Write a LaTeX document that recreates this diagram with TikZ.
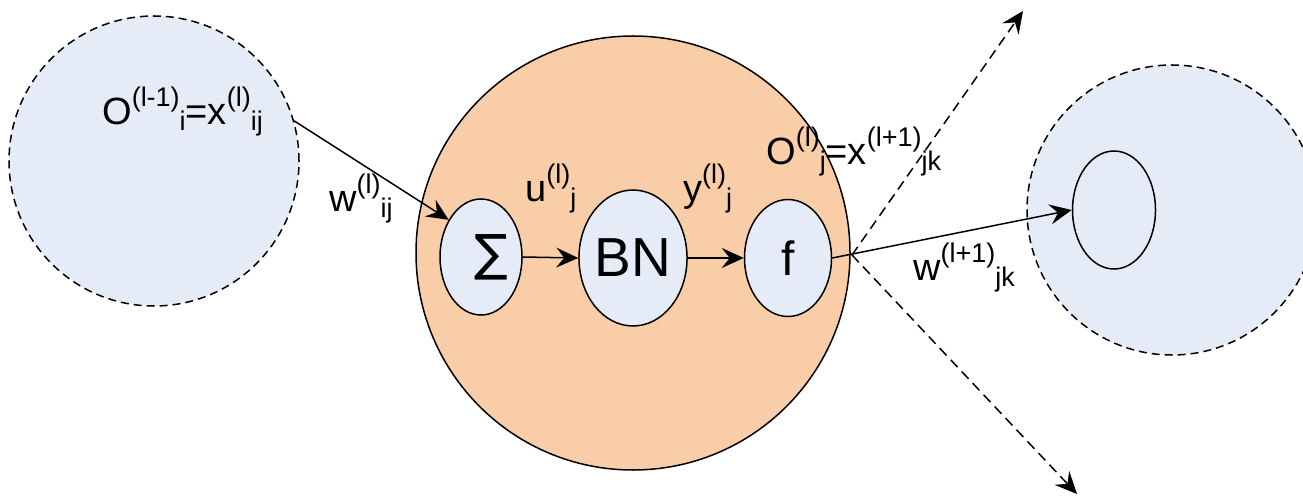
\documentclass[tikz,border=0pt]{standalone}
\usepackage{fontspec}
\setmainfont{Liberation Sans}
\newfontfamily\symfont{DejaVu Sans}
\usetikzlibrary{shapes.geometric,arrows.meta}
\definecolor{pblue}{HTML}{E6ECF7}
\definecolor{porange}{HTML}{F9CDA8}
\newcommand{\Sp}[1]{\raisebox{18bp}{\fontsize{27bp}{27bp}\selectfont #1}}
\newcommand{\Sb}[1]{\raisebox{-6bp}{\fontsize{27bp}{27bp}\selectfont #1}}
\begin{document}
\begin{tikzpicture}[x=1bp,y=-1bp,
  dashcircle/.style={circle, draw, line width=1.5bp, dash pattern=on 8bp off 5bp, fill=pblue, minimum size=290bp, inner sep=0},
  bigcircle/.style={circle, draw, line width=1.5bp, fill=porange, minimum size=434bp, inner sep=0},
  unit/.style={ellipse, draw, line width=1.5bp, fill=pblue, inner sep=0},
  lbl/.style={inner sep=0, font=\fontsize{38bp}{38bp}\selectfont},
  arr/.style={line width=1.5bp, -{Stealth[length=22bp,width=20bp,inset=8bp]}},
  darr/.style={arr, dash pattern=on 10bp off 6bp}
]
\useasboundingbox (0,0) rectangle (1303,497);
\clip (0,0) rectangle (1303,497);
% big shapes
\node[dashcircle] (L) at (154,161) {};
\node[bigcircle] (M) at (633,253) {};
\node[dashcircle] (R) at (1172,210) {};
% units
\node[unit, minimum width=82bp, minimum height=116bp] (S) at (481,257)
  {\hspace{20bp}\symfont\fontsize{50bp}{50bp}\selectfont ∑};
\node[unit, minimum width=108bp, minimum height=136bp,
  font=\fontsize{55bp}{55bp}\selectfont] (BN) at (633,258) {BN};
\node[unit, minimum width=87bp, minimum height=117bp,
  font=\fontsize{48bp}{48bp}\selectfont] (F) at (788,258) {f};
\node[ellipse, draw, line width=1.5bp, inner sep=0, minimum width=83bp, minimum height=118bp] (N) at (1114,210) {};
% coordinates for free ends
\coordinate (out) at (852,255);
\coordinate (up) at (1023,11);
\coordinate (down) at (1077,494);
% connectors
\draw[arr] (L.16) -- (S.131);
\draw[arr] (S.east) -- (BN.west);
\draw[arr] (BN.east) -- (F.west);
\draw[arr] (F.east) -- (N.west);
\draw[darr] (out) -- (up);
\draw[darr] (out) -- (down);
% labels
\node[lbl, anchor=base west] (t1) at (102,125) {O\Sp{(l-1)}\Sb{i}=x\Sp{(l)}\Sb{ij}};
\node[lbl, anchor=base west] (t2) at (329,212) {w\Sp{(l)}\Sb{ij}};
\node[lbl, anchor=base west] (t3) at (525,202) {u\Sp{(l)}\Sb{j}};
\node[lbl, anchor=base west] (t4) at (683,202) {y\Sp{(l)}\Sb{j}};
\node[lbl, anchor=base west] (t5) at (766,165) {O\Sp{(l)}\Sb{j}=x\Sp{(l+1)}\Sb{jk}};
\node[lbl, anchor=base west] (t6) at (913,280) {w\Sp{(l+1)}\Sb{jk}};
\end{tikzpicture}
\end{document}
